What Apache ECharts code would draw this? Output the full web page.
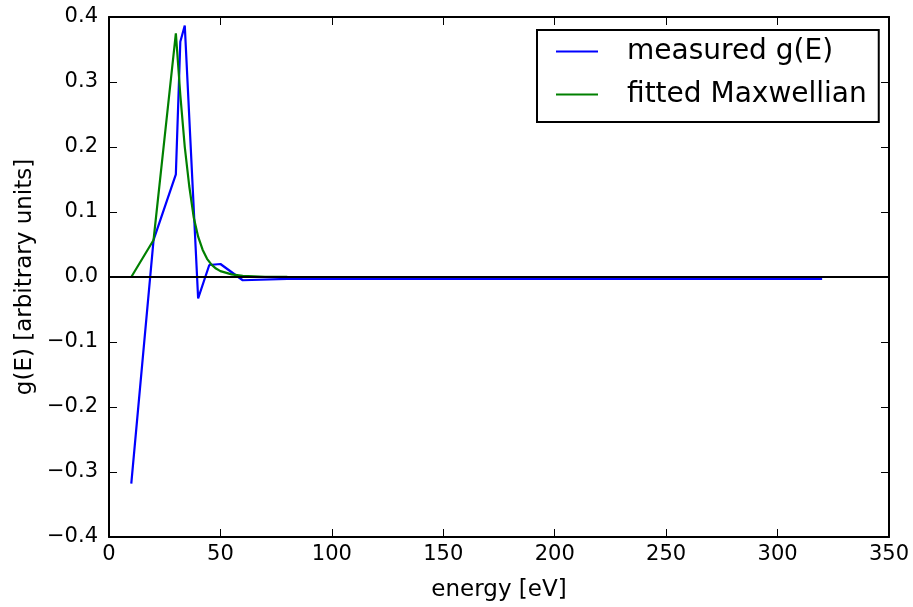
<!DOCTYPE html>
<html>
<head>
<meta charset="utf-8">
<script src="https://cdn.jsdelivr.net/npm/echarts@6/dist/echarts.min.js"></script>
<style>
html,body{margin:0;padding:0;background:#fff;}
#chart{width:913px;height:607px;}
</style>
</head>
<body>
<div id="chart"></div>
<script>
// Data
var measuredEnergy = [10, 20, 30, 32, 34, 40, 45, 50, 60, 80, 100, 150, 200, 250, 300, 320];
var measuredG = [-0.318, 0.057, 0.158, 0.362, 0.387, -0.033, 0.0185, 0.020, -0.005, -0.003, -0.003, -0.003, -0.003, -0.003, -0.003, -0.003];

var fitEnergy = [10, 20, 30, 32, 34, 36, 38, 40, 42, 44, 46, 48, 50, 55, 60, 70, 80, 100, 150, 200, 250, 300, 320];
var fitG = [0, 0.057, 0.375, 0.28, 0.2, 0.14, 0.092, 0.062, 0.042, 0.028, 0.019, 0.013, 0.009, 0.004, 0.0018, 0.0004, 0.0001, 0, 0, 0, 0, 0, 0];

var xTicks = [0, 50, 100, 150, 200, 250, 300, 350];
var yTicks = [-0.4, -0.3, -0.2, -0.1, 0.0, 0.1, 0.2, 0.3, 0.4];

var seriesNames = ['measured g(E)', 'fitted Maxwellian'];
var xLabel = 'energy [eV]';
var yLabel = 'g(E) [arbitrary units]';

function zip(a, b) { return a.map(function (v, i) { return [v, b[i]]; }); }

var FONT = 'DejaVu Sans';
var chart = echarts.init(document.getElementById('chart'), null, {renderer: 'canvas'});

function fmtY(v) {
  var r = Math.round(v * 10) / 10;
  return (r < 0 ? '\u2212' : '') + Math.abs(r).toFixed(1);
}

var axisLineStyle = {color: '#000', width: 2};
var tickStyle = {color: '#000', width: 1};

chart.setOption({
  animation: false,
  backgroundColor: '#fff',
  grid: {left: 109, right: 24, top: 17, bottom: 70, containLabel: false},
  legend: {
    data: seriesNames,
    orient: 'vertical',
    left: 537,
    top: 30,
    padding: [6, 12, 12, 19],
    borderColor: '#000',
    borderWidth: 2,
    backgroundColor: '#fff',
    icon: 'rect',
    itemWidth: 42,
    itemHeight: 2,
    itemGap: 12,
    textStyle: {fontFamily: FONT, fontSize: 28, color: '#000', lineHeight: 31, padding: [0, 0, 0, 24]}
  },
  xAxis: [{
    type: 'value', min: xTicks[0], max: xTicks[xTicks.length - 1], interval: 50,
    name: xLabel, nameLocation: 'middle', nameGap: 42,
    nameTextStyle: {fontFamily: FONT, fontSize: 23, color: '#000'},
    axisLine: {show: true, onZero: false, lineStyle: axisLineStyle},
    axisTick: {show: true, inside: true, length: 8, lineStyle: tickStyle},
    axisLabel: {fontFamily: FONT, fontSize: 21, color: '#000', margin: 7},
    splitLine: {show: false}
  }, {
    type: 'value', position: 'top', min: xTicks[0], max: xTicks[xTicks.length - 1], interval: 50,
    axisLine: {show: true, onZero: false, lineStyle: axisLineStyle},
    axisTick: {show: true, inside: true, length: 8, lineStyle: tickStyle},
    axisLabel: {show: false}, splitLine: {show: false}
  }],
  yAxis: [{
    type: 'value', min: yTicks[0], max: yTicks[yTicks.length - 1], interval: 0.1,
    name: yLabel, nameLocation: 'middle', nameGap: 70, nameRotate: 90,
    nameTextStyle: {fontFamily: FONT, fontSize: 23, color: '#000'},
    axisLine: {show: true, onZero: false, lineStyle: axisLineStyle},
    axisTick: {show: true, inside: true, length: 8, lineStyle: tickStyle},
    axisLabel: {fontFamily: FONT, fontSize: 21, color: '#000', margin: 11, formatter: fmtY},
    splitLine: {show: false}
  }, {
    type: 'value', position: 'right', min: yTicks[0], max: yTicks[yTicks.length - 1], interval: 0.1,
    axisLine: {show: true, onZero: false, lineStyle: axisLineStyle},
    axisTick: {show: true, inside: true, length: 8, lineStyle: tickStyle},
    axisLabel: {show: false}, splitLine: {show: false}
  }],
  series: [{
    name: seriesNames[0], type: 'line', data: zip(measuredEnergy, measuredG),
    showSymbol: false, symbol: 'none', color: '#0000ff',
    lineStyle: {color: '#0000ff', width: 2.2}, z: 2
  }, {
    name: seriesNames[1], type: 'line', data: zip(fitEnergy, fitG),
    showSymbol: false, symbol: 'none', color: '#008000',
    lineStyle: {color: '#008000', width: 2.2}, z: 3,
    markLine: {
      silent: true, symbol: 'none', label: {show: false},
      lineStyle: {color: '#000', width: 2, type: 'solid'},
      data: [{yAxis: 0}]
    }
  }]
});
</script>
</body>
</html>
